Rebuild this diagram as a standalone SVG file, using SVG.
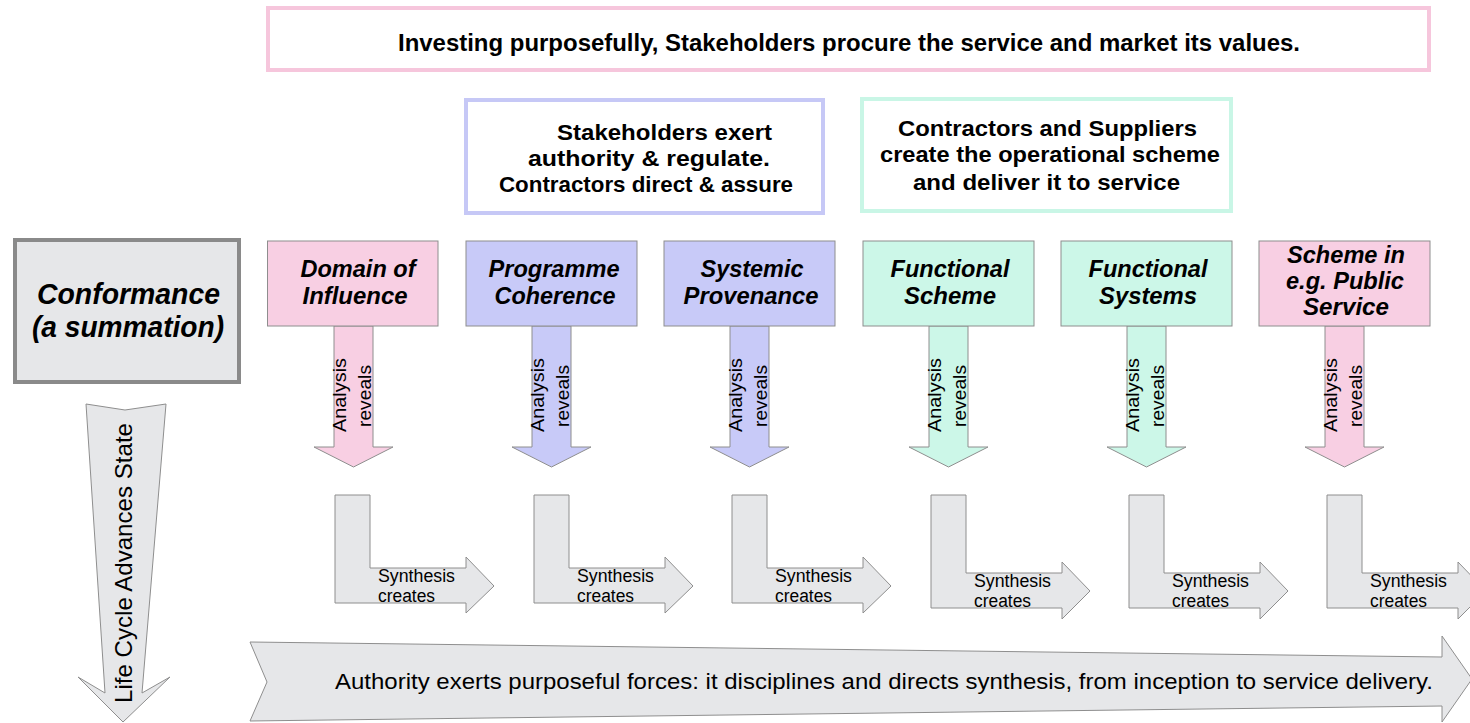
<svg xmlns="http://www.w3.org/2000/svg" width="1470" height="723" viewBox="0 0 1470 723">
<style>
.frame{fill:#ffffff;stroke-width:4}
.fp{stroke:#f6c6dc}.fb{stroke:#c6c8f6}.fg{stroke:#c9f6e6}
.hdr{font-family:"Liberation Sans",Arial,sans-serif;font-weight:bold;font-size:22px;fill:#000;text-anchor:middle}
.node{stroke:#8e8e8e;stroke-width:1}
.pink{fill:#f8cfe3}.blue{fill:#c8caf8}.green{fill:#ccf7e8}.gray{fill:#e6e7e9}
.nt{font-family:"Liberation Sans",Arial,sans-serif;font-weight:bold;font-style:italic;font-size:23px;fill:#000;text-anchor:middle}
.arr{stroke:#8e8e8e;stroke-width:1}
.small{font-family:"Liberation Sans",Arial,sans-serif;font-size:18px;fill:#000}
.mid{text-anchor:middle}
</style>
<g id="banner-top">
<rect class="frame fp" x="268" y="8" width="1161" height="62"/>
<text class="hdr" x="849" y="51" style="font-size:23px" textLength="902" lengthAdjust="spacingAndGlyphs">Investing purposefully, Stakeholders procure the service and market its values.</text>
</g>
<g id="banner-authority">
<rect class="frame fb" x="466" y="100" width="357" height="113"/>
<text class="hdr" x="664.5" y="140" textLength="215" lengthAdjust="spacingAndGlyphs">Stakeholders exert</text>
<text class="hdr" x="649" y="166" textLength="242" lengthAdjust="spacingAndGlyphs">authority &amp; regulate.</text>
<text class="hdr" x="646" y="192" textLength="294" lengthAdjust="spacingAndGlyphs">Contractors direct &amp; assure</text>
</g>
<g id="banner-contractors">
<rect class="frame fg" x="862" y="99" width="369" height="112"/>
<text class="hdr" x="1047.5" y="136" textLength="299" lengthAdjust="spacingAndGlyphs">Contractors and Suppliers</text>
<text class="hdr" x="1050" y="162" textLength="340" lengthAdjust="spacingAndGlyphs">create the operational scheme</text>
<text class="hdr" x="1046.5" y="190" textLength="267" lengthAdjust="spacingAndGlyphs">and deliver it to service</text>
</g>
<g id="conformance">
<rect x="15" y="240" width="224" height="142" fill="#e6e7e9" stroke="#8a8a8a" stroke-width="4"/>
<text class="nt" x="128.5" y="304" style="font-size:29px" textLength="183" lengthAdjust="spacingAndGlyphs">Conformance</text>
<text class="nt" x="128" y="337" style="font-size:29px" textLength="192" lengthAdjust="spacingAndGlyphs">(a summation)</text>
</g>
<g id="connectors">
<g id="analysis-arrows">
<polygon class="arr pink" points="334,326 373,326 373,447 393,447 353.5,467 314,447 334,447"/>
<polygon class="arr blue" points="532,326 571,326 571,447 591,447 551.5,467 512,447 532,447"/>
<polygon class="arr blue" points="730,326 769,326 769,447 789,447 749.5,467 710,447 730,447"/>
<polygon class="arr green" points="929,326 968,326 968,447 988,447 948.5,467 909,447 929,447"/>
<polygon class="arr green" points="1127,326 1166,326 1166,447 1186,447 1146.5,467 1107,447 1127,447"/>
<polygon class="arr pink" points="1325,326 1364,326 1364,447 1384,447 1344.5,467 1305,447 1325,447"/>
</g>
<g class="small mid" style="font-size:19px">
<text transform="translate(346,395) rotate(-90)" textLength="74" lengthAdjust="spacingAndGlyphs">Analysis</text>
<text transform="translate(371,396) rotate(-90)" textLength="62" lengthAdjust="spacingAndGlyphs">reveals</text>
<text transform="translate(544,395) rotate(-90)" textLength="74" lengthAdjust="spacingAndGlyphs">Analysis</text>
<text transform="translate(569,396) rotate(-90)" textLength="62" lengthAdjust="spacingAndGlyphs">reveals</text>
<text transform="translate(742,395) rotate(-90)" textLength="74" lengthAdjust="spacingAndGlyphs">Analysis</text>
<text transform="translate(767,396) rotate(-90)" textLength="62" lengthAdjust="spacingAndGlyphs">reveals</text>
<text transform="translate(941,395) rotate(-90)" textLength="74" lengthAdjust="spacingAndGlyphs">Analysis</text>
<text transform="translate(966,396) rotate(-90)" textLength="62" lengthAdjust="spacingAndGlyphs">reveals</text>
<text transform="translate(1139,395) rotate(-90)" textLength="74" lengthAdjust="spacingAndGlyphs">Analysis</text>
<text transform="translate(1164,396) rotate(-90)" textLength="62" lengthAdjust="spacingAndGlyphs">reveals</text>
<text transform="translate(1337,395) rotate(-90)" textLength="74" lengthAdjust="spacingAndGlyphs">Analysis</text>
<text transform="translate(1362,396) rotate(-90)" textLength="62" lengthAdjust="spacingAndGlyphs">reveals</text>
</g>
<g id="synthesis-arrows">
<path class="arr gray" d="M335,495 H370 V568 H466 V557 L494,586 L466,613 V603 H335 Z"/>
<path class="arr gray" d="M534,495 H569 V568 H665 V557 L693,586 L665,613 V603 H534 Z"/>
<path class="arr gray" d="M732,495 H767 V568 H863 V557 L891,586 L863,613 V603 H732 Z"/>
<path class="arr gray" d="M931,495 H966 V573 H1062 V562 L1090,591 L1062,619 V608 H931 Z"/>
<path class="arr gray" d="M1129,495 H1164 V573 H1260 V562 L1288,591 L1260,619 V608 H1129 Z"/>
<path class="arr gray" d="M1327,495 H1362 V573 H1458 V562 L1486,591 L1458,619 V608 H1327 Z"/>
</g>
<g class="small">
<text x="378" y="582" textLength="77" lengthAdjust="spacingAndGlyphs">Synthesis</text><text x="378" y="602" textLength="57" lengthAdjust="spacingAndGlyphs">creates</text>
<text x="577" y="582" textLength="77" lengthAdjust="spacingAndGlyphs">Synthesis</text><text x="577" y="602" textLength="57" lengthAdjust="spacingAndGlyphs">creates</text>
<text x="775" y="582" textLength="77" lengthAdjust="spacingAndGlyphs">Synthesis</text><text x="775" y="602" textLength="57" lengthAdjust="spacingAndGlyphs">creates</text>
<text x="974" y="587" textLength="77" lengthAdjust="spacingAndGlyphs">Synthesis</text><text x="974" y="607" textLength="57" lengthAdjust="spacingAndGlyphs">creates</text>
<text x="1172" y="587" textLength="77" lengthAdjust="spacingAndGlyphs">Synthesis</text><text x="1172" y="607" textLength="57" lengthAdjust="spacingAndGlyphs">creates</text>
<text x="1370" y="587" textLength="77" lengthAdjust="spacingAndGlyphs">Synthesis</text><text x="1370" y="607" textLength="57" lengthAdjust="spacingAndGlyphs">creates</text>
</g>
<g id="life-cycle">
<polygon class="arr gray" points="86,404 125,410 166,404 142,693 170,677 123,722 78,677 105,693"/>
<text transform="translate(132,563) rotate(-90)" class="small mid" style="font-size:24px" textLength="280" lengthAdjust="spacingAndGlyphs">Life Cycle Advances State</text>
</g>
<g id="authority-arrow">
<polygon class="arr gray" points="250,642 1442,657 1442,636 1472,679 1442,722 1442,706 250,721 267,682"/>
<text class="small" x="335" y="689" style="font-size:22px" textLength="1098" lengthAdjust="spacingAndGlyphs">Authority exerts purposeful forces: it disciplines and directs synthesis, from inception to service delivery.</text>
</g>
</g>
<g id="node-domain">
<rect class="node pink" x="267.5" y="241" width="170.5" height="85"/>
<text class="nt" x="358" y="277" textLength="115" lengthAdjust="spacingAndGlyphs">Domain of</text>
<text class="nt" x="355" y="304" textLength="105" lengthAdjust="spacingAndGlyphs">Influence</text>
</g>
<g id="node-programme">
<rect class="node blue" x="466" y="241" width="171" height="85"/>
<text class="nt" x="554" y="277" textLength="131" lengthAdjust="spacingAndGlyphs">Programme</text>
<text class="nt" x="555" y="304" textLength="121" lengthAdjust="spacingAndGlyphs">Coherence</text>
</g>
<g id="node-systemic">
<rect class="node blue" x="664" y="241" width="171" height="85"/>
<text class="nt" x="752" y="277" textLength="103" lengthAdjust="spacingAndGlyphs">Systemic</text>
<text class="nt" x="751" y="304" textLength="135" lengthAdjust="spacingAndGlyphs">Provenance</text>
</g>
<g id="node-functional-scheme">
<rect class="node green" x="863" y="241" width="171" height="85"/>
<text class="nt" x="950" y="277" textLength="119" lengthAdjust="spacingAndGlyphs">Functional</text>
<text class="nt" x="950" y="304" textLength="92" lengthAdjust="spacingAndGlyphs">Scheme</text>
</g>
<g id="node-functional-systems">
<rect class="node green" x="1061" y="241" width="171" height="85"/>
<text class="nt" x="1148" y="277" textLength="119" lengthAdjust="spacingAndGlyphs">Functional</text>
<text class="nt" x="1148" y="304" textLength="98" lengthAdjust="spacingAndGlyphs">Systems</text>
</g>
<g id="node-scheme-service">
<rect class="node pink" x="1259" y="241" width="171" height="85"/>
<text class="nt" x="1346" y="263" textLength="118" lengthAdjust="spacingAndGlyphs">Scheme in</text>
<text class="nt" x="1345" y="289" textLength="118" lengthAdjust="spacingAndGlyphs">e.g. Public</text>
<text class="nt" x="1346" y="315" textLength="86" lengthAdjust="spacingAndGlyphs">Service</text>
</g>
</svg>
